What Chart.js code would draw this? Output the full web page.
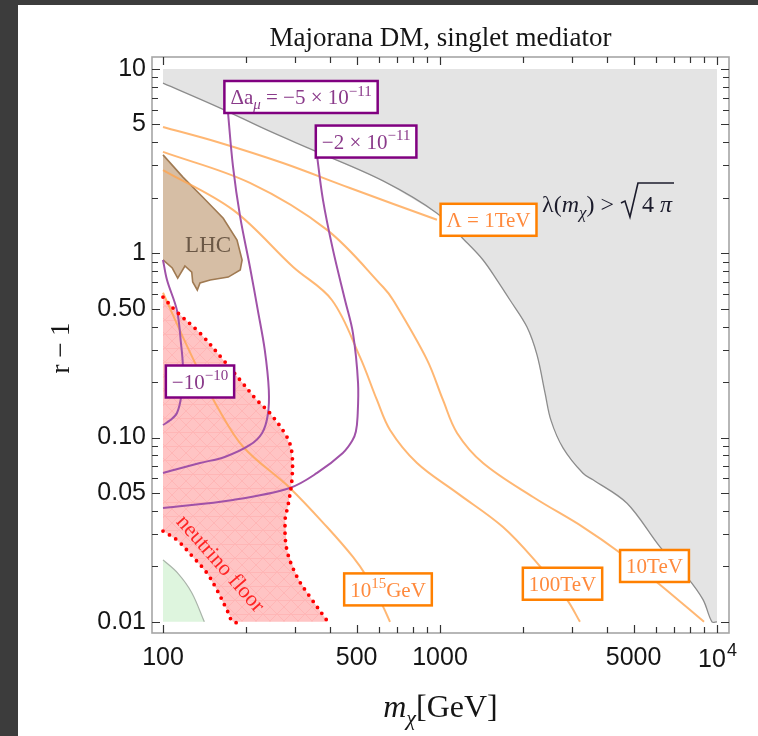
<!DOCTYPE html>
<html>
<head>
<meta charset="utf-8">
<title>Majorana DM, singlet mediator</title>
<script src="https://cdn.jsdelivr.net/npm/chart.js@4.4.1/dist/chart.umd.min.js"></script>
<style>
  html, body { margin: 0; padding: 0; background: #3c3c3c; }
  #wrap { position: absolute; left: 18px; top: 5px; width: 740px; height: 731px; background: #fff; }
  canvas { display: block; }
</style>
</head>
<body>
<div id="wrap"><canvas id="plot" width="740" height="731"></canvas></div>
<script>
// m_chi in GeV, r - 1 on the vertical axis
const xTicks = [100, 200, 300, 400, 500, 600, 700, 800, 900, 1000, 2000, 3000, 4000, 5000, 6000, 7000, 8000, 9000, 10000];
const xMajor = [100, 500, 1000, 5000, 10000];
const xTickText = { 100: '100', 500: '500', 1000: '1000', 5000: '5000' };
const yTicks = [0.01, 0.02, 0.03, 0.04, 0.05, 0.06, 0.07, 0.08, 0.09,
                0.1, 0.2, 0.3, 0.4, 0.5, 0.6, 0.7, 0.8, 0.9,
                1, 2, 3, 4, 5, 6, 7, 8, 9, 10];
const yMajor = [0.01, 0.05, 0.1, 0.5, 1, 5, 10];
const yTickText = { 0.01: '0.01', 0.05: '0.05', 0.1: '0.10', 0.5: '0.50', 1: '1', 5: '5', 10: '10' };

// lambda(m_chi) = sqrt(4 pi) edge
const pertEdge = [[100, 8.39], [161, 6.14], [237, 4.67], [348, 3.63], [623, 2.47], [975, 1.65],
  [1252, 1.14], [1430, 0.92], [1606, 0.716], [1789, 0.558], [2061, 0.398], [2240, 0.281], [2394, 0.175],
  [2516, 0.124], [2780, 0.088], [3283, 0.064], [3567, 0.059], [4733, 0.044], [6226, 0.0255],
  [7795, 0.0175], [8904, 0.0132], [9592, 0.01], [10000, 0.01]];
const pertCorners = [[10000, 10], [100, 10]];

// cutoff scale contours
const lam1TeV = [[100, 4.85], [157, 4.02], [271, 3.09], [473, 2.26], [975, 1.52]];
const lam10TeV = [[100, 3.55], [206, 2.41], [391, 1.34], [623, 0.656], [677, 0.558], [898, 0.264], [1025, 0.160],
  [1152, 0.106], [1430, 0.0728], [2167, 0.0476], [3283, 0.0327], [4465, 0.0237], [6226, 0.0159], [8978, 0.01]];
const lam100TeV = [[100, 2.83], [179, 1.72], [295, 0.843], [407, 0.558], [514, 0.274], [592, 0.160], [660, 0.110],
  [826, 0.0728], [1152, 0.0501], [1688, 0.0327], [2240, 0.0209], [2873, 0.0132], [3201, 0.01]];
const lam1e15 = [[100, 0.611], [118, 0.351], [136, 0.224], [157, 0.147], [195, 0.0889], [287, 0.0533],
  [391, 0.0327], [485, 0.0225], [545, 0.0175], [623, 0.0121], [660, 0.01]];

// Delta a_mu contours
const damu5 = [[171, 6.2], [179, 2.94], [190, 1.57], [206, 0.843], [220, 0.49], [233, 0.299], [241, 0.181],
  [239, 0.133], [228, 0.106], [206, 0.0912], [167, 0.0785], [136, 0.0728], [100, 0.0643]];
const damu2 = [[358, 3.6], [378, 1.95], [411, 1.04], [454, 0.558], [485, 0.369], [506, 0.198], [504, 0.13],
  [497, 0.108], [482, 0.096], [446, 0.0825], [360, 0.0643], [287, 0.0533], [179, 0.0459], [100, 0.0415]];
const damu10 = [[100, 0.92], [103.4, 0.716], [112.3, 0.49], [116, 0.33], [118, 0.24], [116.5, 0.17],
  [112.3, 0.136], [106, 0.124], [100, 0.117]];

// excluded / floor regions
const lhcRegion = [[100, 3.42], [118, 2.59], [139, 2.02], [165, 1.55], [185, 1.18], [193, 0.92], [190, 0.811],
  [172, 0.743], [148, 0.716], [136, 0.690], [133, 0.632], [128, 0.699], [127, 0.791], [120, 0.853],
  [113, 0.734], [108, 0.832], [100, 0.92]];
const nuUpper = [[100, 0.579], [112.3, 0.48], [136, 0.369], [165, 0.264], [190, 0.205], [218, 0.16], [243, 0.136],
  [280, 0.101], [292, 0.0825], [292, 0.0589], [283, 0.0431], [276, 0.0357], [280, 0.0246], [305, 0.0175],
  [339, 0.0137], [394, 0.01]];
const nuLower = [[100, 0.0311], [112.3, 0.0278], [128.3, 0.0225], [144.1, 0.0184], [156.6, 0.0149],
  [170.2, 0.0116], [179, 0.01], [194.5, 0.01]];
const greenEdge = [[100, 0.0217], [113, 0.0184], [127, 0.0144], [141, 0.01]];
const greenCorner = [[100, 0.01]];

const SERIF = '"Liberation Serif", "DejaVu Serif", serif';
const SANS = '"Liberation Sans", Arial, sans-serif';
const ORANGE_LINE = 'rgba(255, 165, 80, 0.8)';
const PURPLE_LINE = '#a052a8';

const pts = arr => arr.map(([x, y]) => ({ x, y }));

function hatchPattern(ctx) {
  const c = document.createElement('canvas');
  c.width = 14; c.height = 14;
  const g = c.getContext('2d');
  g.fillStyle = '#ffc4c4';
  g.fillRect(0, 0, 14, 14);
  g.strokeStyle = '#ffb6b6';
  g.lineWidth = 1;
  g.beginPath();
  g.moveTo(0, 0); g.lineTo(14, 14);
  g.moveTo(14, 0); g.lineTo(0, 14);
  g.moveTo(0, 7.5); g.lineTo(14, 7.5);
  g.stroke();
  return ctx.createPattern(c, 'repeat');
}

// text labels placed at data positions
const PURPLE_TXT = { text: '#8a3a8a', edge: '#800080' };
const ORANGE_TXT = { text: '#ff8a3d', edge: '#ff8000' };
const boxes = [
  { parts: [['Δa', ''], ['μ', 'itsub'], [' = −5 × 10', ''], ['−11', 'sup']], at: [315, 7.05], c: PURPLE_TXT },
  { parts: [['−2 × 10', ''], ['−11', 'sup']], at: [541, 4.04], c: PURPLE_TXT },
  { parts: [['−10', ''], ['−10', 'sup']], at: [136, 0.2015], c: PURPLE_TXT },
  { parts: [['Λ = 1TeV', '']], at: [1497, 1.52], c: ORANGE_TXT },
  { parts: [['10', ''], ['15', 'sup'], ['GeV', '']], at: [649, 0.0150], c: ORANGE_TXT },
  { parts: [['100TeV', '']], at: [2769, 0.0161], c: ORANGE_TXT },
  { parts: [['10TeV', '']], at: [5949, 0.0201], c: ORANGE_TXT }
];
const lambdaTextAt = [2335, 1.675];
const lhcTextAt = [145.5, 1.10];
const nuTextAt = [160.6, 0.0206];

function richFont(size, mode) {
  const small = mode.includes('sub') || mode.includes('sup');
  return (mode.includes('it') ? 'italic ' : '') + (small ? Math.round(size * 0.7) : size) + 'px ' + SERIF;
}
function richWidth(ctx, parts, size) {
  let w = 0;
  for (const [t, m] of parts) { ctx.font = richFont(size, m); w += ctx.measureText(t).width; }
  return w;
}
function drawRich(ctx, parts, left, base, size) {
  let px = left;
  ctx.textAlign = 'left';
  ctx.textBaseline = 'alphabetic';
  for (const [t, m] of parts) {
    ctx.font = richFont(size, m);
    const dy = m.includes('sup') ? -size * 0.4 : m.includes('sub') ? size * 0.25 : 0;
    ctx.fillText(t, px, base + dy);
    px += ctx.measureText(t).width;
  }
  return px;
}

const decor = {
  id: 'decor',
  afterDatasetsDraw(chart) {
    const { ctx, chartArea: a, scales: { x, y } } = chart;
    ctx.save();

    // frame and inward ticks
    ctx.strokeStyle = '#a6a6a6';
    ctx.lineWidth = 1.6;
    ctx.strokeRect(a.left, a.top, a.right - a.left, a.bottom - a.top);
    ctx.strokeStyle = '#333';
    ctx.lineWidth = 1.2;
    ctx.beginPath();
    for (const v of xTicks) {
      const px = Math.round(x.getPixelForValue(v)) + 0.5;
      const len = xMajor.includes(v) ? 8 : 6;
      ctx.moveTo(px, a.bottom); ctx.lineTo(px, a.bottom - len);
      ctx.moveTo(px, a.top); ctx.lineTo(px, a.top + len);
    }
    for (const v of yTicks) {
      const py = Math.round(y.getPixelForValue(v)) + 0.5;
      const len = yMajor.includes(v) ? 8 : 6;
      ctx.moveTo(a.left, py); ctx.lineTo(a.left + len, py);
      ctx.moveTo(a.right, py); ctx.lineTo(a.right - len, py);
    }
    ctx.stroke();

    // boxed contour labels
    const size = 21;
    for (const b of boxes) {
      const cx = x.getPixelForValue(b.at[0]);
      const cy = y.getPixelForValue(b.at[1]);
      const w = richWidth(ctx, b.parts, size) + 12;
      const h = 32;
      ctx.fillStyle = '#fff';
      ctx.fillRect(cx - w / 2, cy - h / 2, w, h);
      ctx.strokeStyle = b.c.edge;
      ctx.lineWidth = 2.5;
      ctx.strokeRect(cx - w / 2, cy - h / 2, w, h);
      ctx.fillStyle = b.c.text;
      drawRich(ctx, b.parts, cx - w / 2 + 6, cy + size * 0.34, size);
    }

    // lambda(m_chi) > sqrt(4 pi)
    {
      const lx = x.getPixelForValue(lambdaTextAt[0]);
      const ly = y.getPixelForValue(lambdaTextAt[1]);
      const s = 24;
      ctx.fillStyle = '#1c1c2c';
      let px = drawRich(ctx, [['λ(', ''], ['m', 'it'], ['χ', 'itsub'], [') > ', '']], lx, ly, s);
      ctx.strokeStyle = '#1c1c2c';
      ctx.lineWidth = 1.6;
      ctx.beginPath();
      ctx.moveTo(px + 1, ly - 9);
      ctx.lineTo(px + 5, ly - 11);
      ctx.lineTo(px + 10, ly + 5);
      ctx.lineTo(px + 18, ly - 29);
      const end = px + 22 + richWidth(ctx, [['4 ', ''], ['π', 'it']], s) + 2;
      ctx.lineTo(end, ly - 29);
      ctx.stroke();
      drawRich(ctx, [['4 ', ''], ['π', 'it']], px + 22, ly, s);
    }

    // region names
    ctx.fillStyle = '#6b5846';
    ctx.font = '23px ' + SERIF;
    ctx.textAlign = 'center';
    ctx.textBaseline = 'middle';
    ctx.fillText('LHC', x.getPixelForValue(lhcTextAt[0]), y.getPixelForValue(lhcTextAt[1]));

    ctx.save();
    ctx.translate(x.getPixelForValue(nuTextAt[0]), y.getPixelForValue(nuTextAt[1]));
    ctx.rotate(48.7 * Math.PI / 180);
    ctx.fillStyle = '#ff2424';
    ctx.font = '22px ' + SERIF;
    ctx.fillText('neutrino floor', 0, 0);
    ctx.restore();

    ctx.restore();
  },
  afterDraw(chart) {
    const { ctx, chartArea: a, scales: { x } } = chart;
    const mid = (a.left + a.right) / 2;
    ctx.save();
    ctx.fillStyle = '#151515';

    ctx.font = '27px ' + SERIF;
    ctx.textAlign = 'center';
    ctx.textBaseline = 'alphabetic';
    ctx.fillText('Majorana DM, singlet mediator', mid, 41);

    // 10^4 tick label
    const t4 = x.getPixelForValue(10000);
    ctx.font = '25px ' + SANS;
    const w10 = ctx.measureText('10').width;
    ctx.font = '18px ' + SANS;
    const w4 = ctx.measureText('4').width;
    ctx.font = '25px ' + SANS;
    ctx.textAlign = 'left';
    ctx.fillText('10', t4 - (w10 + w4) / 2, 662);
    ctx.font = '18px ' + SANS;
    ctx.fillText('4', t4 - (w10 + w4) / 2 + w10 + 1, 651);

    // axis titles
    const xt = [['m', 'it'], ['χ', 'itsub'], ['[GeV]', '']];
    const xw = richWidth(ctx, xt, 32);
    drawRich(ctx, xt, mid - xw / 2, 712, 32);

    ctx.save();
    ctx.translate(44, (a.top + a.bottom) / 2 + 3);
    ctx.rotate(-Math.PI / 2);
    ctx.font = '27px ' + SERIF;
    ctx.textAlign = 'center';
    ctx.textBaseline = 'middle';
    ctx.fillText('r − 1', 0, 0);
    ctx.restore();

    ctx.restore();
  }
};

const canvas = document.getElementById('plot');
const pink = hatchPattern(canvas.getContext('2d'));

const line = (arr, color, width, order, extra) => Object.assign({
  data: pts(arr), showLine: true, borderColor: color, borderWidth: width,
  pointRadius: 0, fill: false, tension: 0.35, order
}, extra || {});
const region = (arr, color, order, extra) => Object.assign({
  data: pts(arr), showLine: true, borderColor: 'rgba(0,0,0,0)', borderWidth: 1,
  backgroundColor: color, pointRadius: 0, fill: 'shape', tension: 0, order
}, extra || {});

new Chart(canvas, {
  type: 'scatter',
  data: {
    datasets: [
      region(pertEdge.concat(pertCorners), '#e4e4e4', 90),
      line(pertEdge, '#8c8c8c', 1.3, 85),
      region(greenEdge.concat(greenCorner), '#def5de', 80),
      line(greenEdge, '#a9b4a9', 1.2, 79),
      region(nuUpper.concat(nuLower.slice().reverse()), pink, 70),
      region(lhcRegion, '#d6bea5', 60, { borderColor: '#a07a52', borderWidth: 1.6 }),
      line(lam1TeV, ORANGE_LINE, 2, 40),
      line(lam10TeV, ORANGE_LINE, 2, 40),
      line(lam100TeV, ORANGE_LINE, 2, 40),
      line(lam1e15, ORANGE_LINE, 2, 40),
      line(damu5, PURPLE_LINE, 2, 30),
      line(damu2, PURPLE_LINE, 2, 30),
      line(damu10, PURPLE_LINE, 2, 30),
      line(nuUpper, '#ff0000', 3.8, 10, { borderDash: [0, 7.5], borderCapStyle: 'round' }),
      line(nuLower, '#ff0000', 3.8, 10, { borderDash: [0, 7.5], borderCapStyle: 'round' })
    ]
  },
  options: {
    responsive: false,
    animation: false,
    events: [],
    layout: { padding: { top: 52, right: 29, left: 0, bottom: 0 } },
    plugins: { legend: { display: false }, tooltip: { enabled: false } },
    scales: {
      x: {
        type: 'logarithmic', min: 91.26, max: 11050, bounds: 'data',
        grid: { display: false, drawTicks: false }, border: { display: false },
        afterBuildTicks: s => { s.ticks = xTicks.map(v => ({ value: v })); },
        afterFit: s => { s.height = 103; },
        ticks: {
          autoSkip: false, maxRotation: 0, minRotation: 0, padding: 10, color: '#151515',
          font: { family: SANS, size: 25 },
          callback: v => xTickText[v] || ''
        }
      },
      y: {
        type: 'logarithmic', min: 0.0087, max: 11.62, bounds: 'data',
        grid: { display: false, drawTicks: false }, border: { display: false },
        afterBuildTicks: s => { s.ticks = yTicks.map(v => ({ value: v })); },
        afterFit: s => { s.width = 134; },
        ticks: {
          autoSkip: false, padding: 6, color: '#151515',
          font: { family: SANS, size: 25 },
          callback: v => yTickText[v] || ''
        }
      }
    }
  },
  plugins: [decor]
});
</script>
</body>
</html>
